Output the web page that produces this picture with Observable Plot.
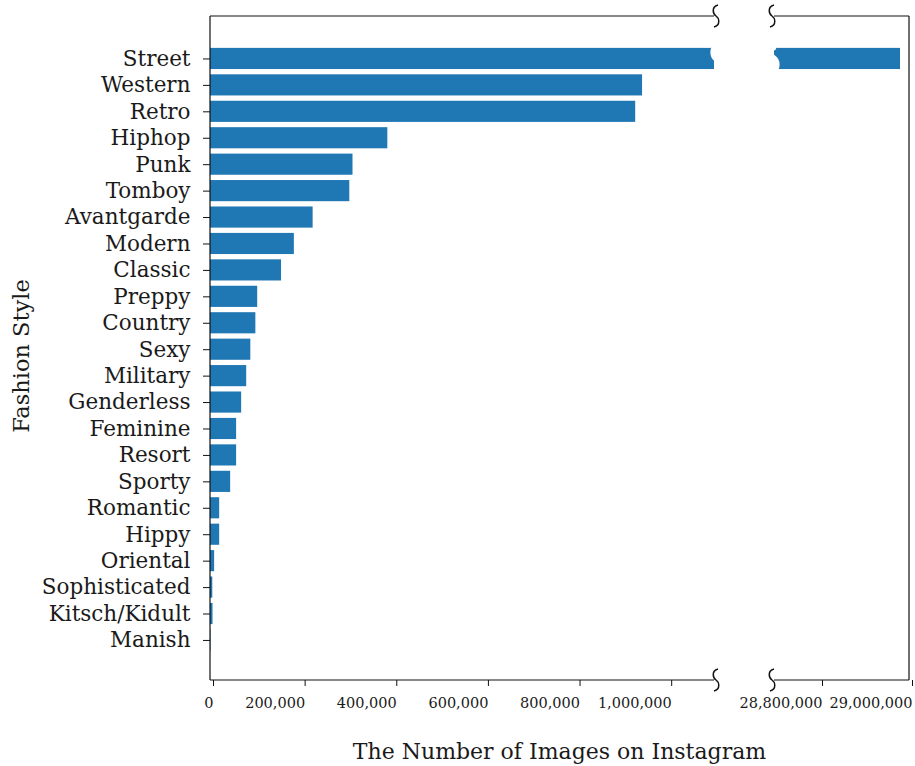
<!DOCTYPE html>
<html>
<head>
<meta charset="utf-8">
<script src="https://cdn.jsdelivr.net/npm/d3@7"></script>
<script src="https://cdn.jsdelivr.net/npm/@observablehq/plot@0.6"></script>
<style>
  body { margin: 0; background: #fff; }
  #chart { position: relative; width: 915px; height: 766px; font-family: 'DejaVu Serif', serif; color: #1a1a1a; }
  #chart svg { position: absolute; left: 0; top: 0; }
  .xlabel { position: absolute; left: 210px; width: 699px; top: 739px; text-align: center; font-size: 22px; line-height: 26px; }
  .ylabel { position: absolute; left: 21px; top: 356px; transform: translate(-50%, -50%) rotate(-90deg); font-size: 22.5px; white-space: nowrap; }
</style>
</head>
<body>
<div id="chart"></div>
<script>
// Fashion styles, largest first
const styles = [
  "Street", "Western", "Retro", "Hiphop", "Punk", "Tomboy", "Avantgarde", "Modern",
  "Classic", "Preppy", "Country", "Sexy", "Military", "Genderless", "Feminine", "Resort",
  "Sporty", "Romantic", "Hippy", "Oriental", "Sophisticated", "Kitsch/Kidult", "Manish"
];
// Number of Instagram images per style
const counts = [
  28980000, 943000, 928000, 387000, 311000, 304000, 224000, 183000,
  155000, 103000, 99000, 88000, 79000, 68000, 57000, 57000,
  44000, 20000, 20000, 9000, 5000, 5500, 1000
];
const leftTicks = [0, 200000, 400000, 600000, 800000, 1000000];
const rightTicks = [28800000, 29000000];
const leftDomain = [0, 1100000];
const rightDomain = [28700000, 29000000];
const xLabel = "The Number of Images on Instagram";
const yLabel = "Fashion Style";

const data = styles.map((s, i) => ({style: s, count: counts[i]}));

const W = 915, H = 766;
const mTop = 16, mBottom = 86;
const barColor = "#1f77b4";
const ink = "#111";
const fmt = d3.format(",");

const yScale = {domain: styles, padding: 0.2, round: false, insetTop: 26.6, insetBottom: 24.2, label: null};
const baseStyle = {fontFamily: "'DejaVu Serif', serif", fontSize: "21.5px", background: "transparent", color: "#1a1a1a", overflow: "visible"};

// Left panel: 0 .. 1.1M
const left = Plot.plot({
  width: W, height: H,
  marginLeft: 210, marginRight: 201, marginTop: mTop, marginBottom: mBottom,
  style: baseStyle,
  x: {domain: leftDomain, label: null},
  y: yScale,
  marks: [
    Plot.barX(data, {x: "count", y: "style", fill: barColor, clip: true}),
    Plot.axisY({tickSize: 7, tickPadding: 13, label: null, stroke: ink}),
    Plot.axisX({ticks: leftTicks, tickFormat: fmt, tickSize: 6, tickPadding: 11, textAnchor: "end", dx: 3, fontSize: 14.5, label: null, stroke: ink})
  ]
});

// Right panel: 28.7M .. 29.0M
const right = Plot.plot({
  width: W, height: H,
  marginLeft: 774, marginRight: 6, marginTop: mTop, marginBottom: mBottom,
  style: baseStyle,
  x: {domain: rightDomain, label: null},
  y: {...yScale, axis: null},
  marks: [
    Plot.barX(data, {x: "count", y: "style", fill: barColor, clip: true}),
    Plot.axisX({ticks: rightTicks, tickFormat: fmt, tickSize: 6, tickPadding: 11, textAnchor: "end", dx: 3, fontSize: 14.5, label: null, stroke: ink})
  ]
});

// S-shaped break glyph centred at (cx, cy)
function breakPath(cx, cy, h) {
  const k = h / 22;
  return `M${cx + 2 * k},${cy - 11 * k} C${cx - 5 * k},${cy - 9 * k} ${cx - 3 * k},${cy - 2 * k} ${cx},${cy}` +
         ` C${cx + 3 * k},${cy + 2 * k} ${cx + 5 * k},${cy + 9 * k} ${cx - 2 * k},${cy + 11 * k}`;
}

function line(g, x1, y1, x2, y2) {
  g.append("line").attr("x1", x1).attr("y1", y1).attr("x2", x2).attr("y2", y2)
    .attr("stroke", ink).attr("stroke-width", 1.2);
}

const yTop = mTop, yBot = H - mBottom;

// Spines and break marks for the left panel
{
  const xs = left.scale("x"), ys = left.scale("y");
  const x0 = xs.apply(leftDomain[0]), x1 = xs.apply(leftDomain[1]);
  const g = d3.select(left).append("g");
  line(g, x0, yTop, x0, yBot);
  line(g, x0, yTop, x1, yTop);
  line(g, x0, yBot, x1, yBot);
  const cy = ys.apply(styles[0]) + ys.bandwidth / 2;
  g.append("path").attr("d", breakPath(x1 + 3, cy, ys.bandwidth + 4))
    .attr("fill", "none").attr("stroke", "#fff").attr("stroke-width", 7);
  for (const y of [yTop, yBot]) {
    g.append("path").attr("d", breakPath(x1 + 2, y, 22)).attr("fill", "none").attr("stroke", ink).attr("stroke-width", 1.5);
  }
}

// Spines and break marks for the right panel
{
  const xs = right.scale("x"), ys = right.scale("y");
  const x0 = xs.apply(rightDomain[0]), x1 = xs.apply(rightDomain[1]);
  const g = d3.select(right).append("g");
  line(g, x1, yTop, x1, yBot);
  line(g, x0, yTop, x1, yTop);
  line(g, x0, yBot, x1, yBot);
  const cy = ys.apply(styles[0]) + ys.bandwidth / 2;
  g.append("path").attr("d", breakPath(x0 - 1, cy, ys.bandwidth + 4))
    .attr("fill", "none").attr("stroke", "#fff").attr("stroke-width", 7);
  for (const y of [yTop, yBot]) {
    g.append("path").attr("d", breakPath(x0 - 2, y, 22)).attr("fill", "none").attr("stroke", ink).attr("stroke-width", 1.5);
  }
}

const chart = document.getElementById("chart");
chart.appendChild(left);
chart.appendChild(right);

const xl = document.createElement("div");
xl.className = "xlabel";
xl.textContent = xLabel;
chart.appendChild(xl);

const yl = document.createElement("div");
yl.className = "ylabel";
yl.textContent = yLabel;
chart.appendChild(yl);
</script>
</body>
</html>
